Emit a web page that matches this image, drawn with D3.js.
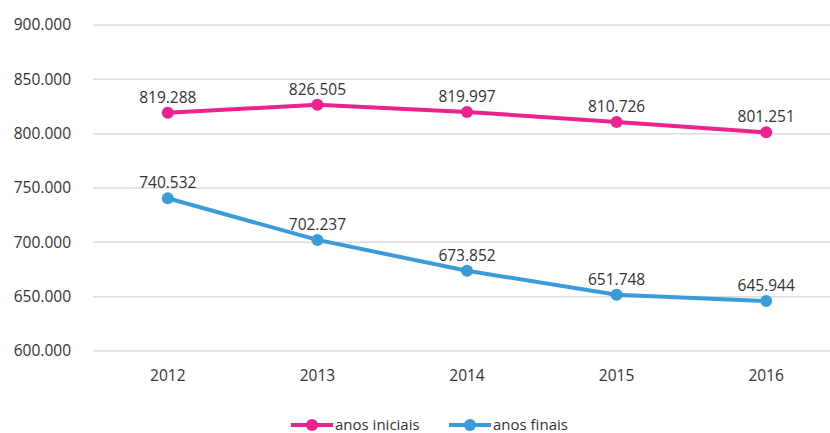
<!DOCTYPE html>
<html><head><meta charset="utf-8">
<script src="https://cdn.jsdelivr.net/npm/d3@7"></script>
<style>body{margin:0;background:#fff}svg{display:block;font-family:"Open Sans",sans-serif}</style>
</head><body><svg id="c" width="830" height="433"></svg>
<script>
const years = ["2012","2013","2014","2015","2016"];
const anosIniciais = [819288, 826505, 819997, 810726, 801251];
const anosFinais = [740532, 702237, 673852, 651748, 645944];
const yTicks = [600000, 650000, 700000, 750000, 800000, 850000, 900000];
const seriesNames = ["anos iniciais", "anos finais"];
const seriesColors = ["#ec2290", "#3a9bd8"];

const svg = d3.select("#c");
const x = d3.scaleBand().domain(years).range([93, 841]);
const y = d3.scaleLinear().domain([600000, 900000]).range([351, 25]);
const fmtTick = v => (v/1000).toFixed(0) + ".000";
const fmtLab = v => { const s = String(v); return s.slice(0, s.length-3) + "." + s.slice(-3); };

const grid = svg.append("g");
grid.selectAll("line").data(yTicks).join("line")
  .attr("x1", 93).attr("x2", 830)
  .attr("y1", d => y(d)).attr("y2", d => y(d))
  .attr("stroke", "#dcdcdc").attr("stroke-width", 1.5);
svg.append("g").selectAll("text").data(yTicks).join("text")
  .attr("x", 71).attr("y", d => y(d)).attr("dy", "0.35em")
  .attr("text-anchor", "end").attr("font-size", 15.5).attr("fill", "#333")
  .text(fmtTick);
svg.append("g").selectAll("text").data(years).join("text")
  .attr("x", d => x(d) + x.bandwidth()/2).attr("y", 376).attr("dy", "0.35em")
  .attr("text-anchor", "middle").attr("font-size", 15.5).attr("fill", "#333")
  .text(d => d);

const all = [anosIniciais, anosFinais];
const line = d3.line().x((d,i) => x(years[i]) + x.bandwidth()/2).y(d => y(d));
all.forEach((vals, si) => {
  const g = svg.append("g");
  g.append("path").datum(vals).attr("d", line).attr("fill", "none")
    .attr("stroke", seriesColors[si]).attr("stroke-width", 4).attr("stroke-linejoin", "round");
  g.selectAll("circle").data(vals).join("circle")
    .attr("cx", (d,i) => x(years[i]) + x.bandwidth()/2).attr("cy", d => y(d))
    .attr("r", 6).attr("fill", seriesColors[si]);
  g.selectAll("text").data(vals).join("text")
    .attr("x", (d,i) => x(years[i]) + x.bandwidth()/2).attr("y", d => y(d) - 10)
    .attr("text-anchor", "middle").attr("font-size", 15.5).attr("fill", "#333")
    .text(fmtLab);
});

const leg = svg.append("g");
const legX = [291, 449];
seriesNames.forEach((n, i) => {
  const lg = leg.append("g").attr("transform", `translate(${legX[i]},425)`);
  lg.append("line").attr("x1", 0).attr("x2", 42).attr("y1", 0).attr("y2", 0)
    .attr("stroke", seriesColors[i]).attr("stroke-width", 4);
  lg.append("circle").attr("cx", 21).attr("cy", 0).attr("r", 6).attr("fill", seriesColors[i]);
  lg.append("text").attr("x", 44).attr("y", 0).attr("dy", "0.35em")
    .attr("font-size", 15).attr("fill", "#333").text(n);
});
</script></body></html>
